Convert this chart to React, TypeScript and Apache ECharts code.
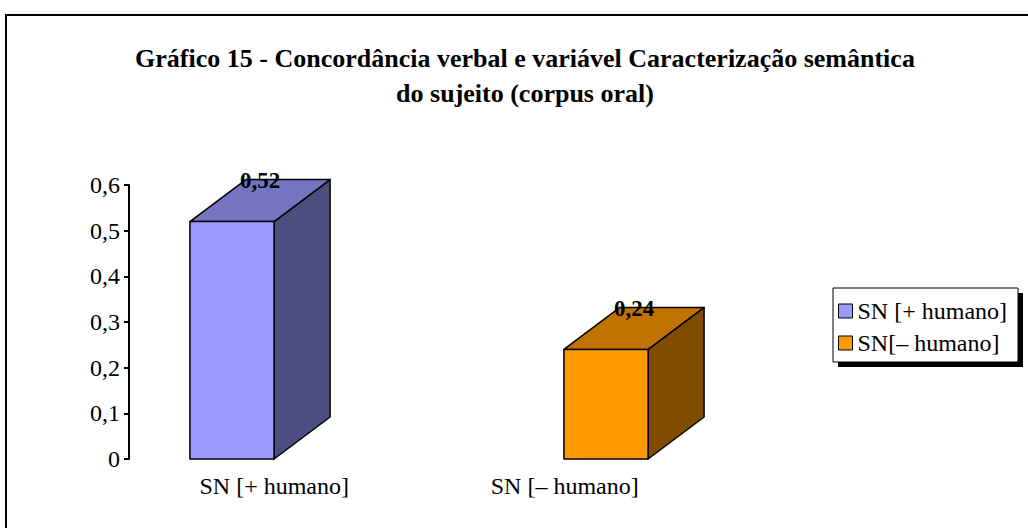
import React, { useEffect, useRef } from "react";
import * as echarts from "echarts";

const categories = ["SN [+ humano]", "SN [– humano]"];
const legendNames = ["SN [+ humano]", "SN[– humano]"];
const values = [0.52, 0.24];
const yTicks = [0, 0.1, 0.2, 0.3, 0.4, 0.5, 0.6];
const titleLines = [
  "Gráfico 15 - Concordância verbal e variável Caracterização semântica",
  "do sujeito (corpus oral)",
];

const frontColors = ["#9999FF", "#FF9900"];
const topColors = ["#7474C2", "#C07300"];
const sideColors = ["#4D4D80", "#804C00"];

const FONT = '"Liberation Serif", "Times New Roman", serif';

const fmt = (v: number) => (v === 0 ? "0" : String(v).replace(".", ","));

export default function App() {
  const ref = useRef<HTMLDivElement>(null);
  useEffect(() => {
    if (!ref.current) return;
    const chart = echarts.init(ref.current, null, { renderer: "svg" });
    const dx = 56;
    const dy = -42;
    const series = values.map((v, i) => ({
      type: "custom",
      name: legendNames[i],
      xAxisIndex: 1,
      yAxisIndex: 1,
      itemStyle: { color: frontColors[i], borderColor: "#000", borderWidth: 1 },
      data: [[i, v]],
      renderItem: (params: any, api: any) => {
        const idx = api.value(0);
        const val = api.value(1);
        const top = api.coord([idx, val]);
        const base = api.coord([idx, 0]);
        const band = api.size([1, 0])[0];
        const w = band * 0.225;
        const x0 = top[0] - w / 2;
        const x1 = top[0] + w / 2;
        const yT = top[1];
        const yB = base[1];
        const edge = { stroke: "#000", lineWidth: 1.5, lineJoin: "round" };
        return {
          type: "group",
          children: [
            {
              type: "polygon",
              shape: { points: [[x1, yB], [x1, yT], [x1 + dx, yT + dy], [x1 + dx, yB + dy]] },
              style: { fill: sideColors[i], ...edge },
            },
            {
              type: "polygon",
              shape: { points: [[x0, yT], [x1, yT], [x1 + dx, yT + dy], [x0 + dx, yT + dy]] },
              style: { fill: topColors[i], ...edge },
            },
            {
              type: "rect",
              shape: { x: x0, y: yT, width: w, height: yB - yT },
              style: { fill: frontColors[i], ...edge },
            },
            {
              type: "text",
              style: {
                text: fmt(val),
                x: (x0 + x1) / 2 + dx / 2,
                y: yT + dy + 1,
                align: "center",
                verticalAlign: "middle",
                fontFamily: FONT,
                fontSize: 23,
                fontWeight: "bold",
                fill: "#000",
              },
            },
          ],
        };
      },
    }));

    chart.setOption({
      animation: false,
      backgroundColor: "#fff",
      grid: [
        { left: 129, top: 185, width: 581, height: 274 },
        { left: 45, top: 185, width: 748, height: 274 },
      ],
      xAxis: [
        {
          type: "category",
          gridIndex: 0,
          data: categories,
          axisLine: { show: false },
          axisTick: { show: false },
          axisLabel: { color: "#000", fontFamily: FONT, fontSize: 24, margin: 15 },
        },
        { type: "category", gridIndex: 1, data: categories, show: false },
      ],
      yAxis: [
        {
          type: "value",
          gridIndex: 0,
          min: yTicks[0],
          max: yTicks[yTicks.length - 1],
          interval: 0.1,
          splitLine: { show: false },
          axisLine: { show: true, lineStyle: { color: "#000", width: 2 } },
          axisTick: { show: true, length: 5, lineStyle: { color: "#000", width: 2 } },
          axisLabel: {
            color: "#000",
            fontFamily: FONT,
            fontSize: 24,
            margin: 9,
            formatter: (v: number) => fmt(Math.round(v * 10) / 10),
          },
        },
        {
          type: "value",
          gridIndex: 1,
          min: yTicks[0],
          max: yTicks[yTicks.length - 1],
          show: false,
        },
      ],
      legend: {
        orient: "vertical",
        left: 833,
        top: 288,
        z: 5,
        padding: [10, 11, 6, 5],
        itemGap: 6,
        itemWidth: 14,
        itemHeight: 14,
        backgroundColor: "#fff",
        borderColor: "#000",
        borderWidth: 1,
        icon: "rect",
        itemStyle: { borderColor: "#000", borderWidth: 1 },
        textStyle: { color: "#000", fontFamily: FONT, fontSize: 24, lineHeight: 26 },
        data: legendNames,
      },
      graphic: [
        {
          type: "rect",
          z: 1,
          shape: { x: 6, y: 15, width: 1040, height: 530 },
          style: { fill: "none", stroke: "#000", lineWidth: 2 },
        },
        {
          type: "rect",
          z: 1,
          shape: { x: 838, y: 293, width: 185, height: 74 },
          style: { fill: "#000" },
        },
        {
          type: "text",
          z: 2,
          x: 525,
          y: 41,
          style: {
            text: titleLines.join("\n"),
            align: "center",
            verticalAlign: "top",
            fontFamily: FONT,
            fontSize: 26,
            fontWeight: "bold",
            lineHeight: 35,
            fill: "#000",
          },
        },
      ],
      series,
    });
    return () => chart.dispose();
  }, []);
  return (
    <div
      ref={ref}
      style={{ position: "fixed", left: 0, top: 0, width: 1028, height: 528 }}
    />
  );
}
